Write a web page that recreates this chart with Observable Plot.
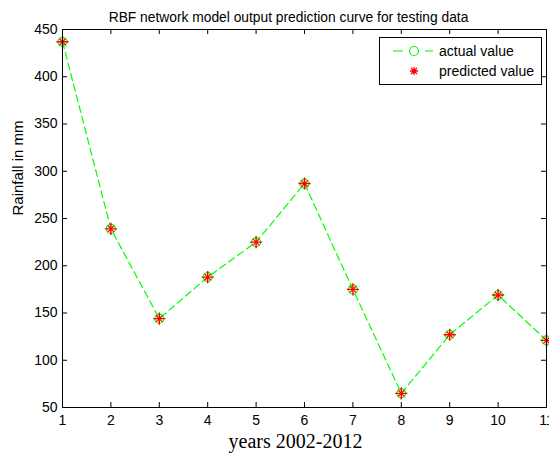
<!DOCTYPE html>
<html><head><meta charset="utf-8">
<script src="https://cdn.jsdelivr.net/npm/d3@7"></script>
<script src="https://cdn.jsdelivr.net/npm/@observablehq/plot@0.6"></script>
<style>
body{margin:0;background:#fff;}
#wrap{position:relative;width:549px;height:461px;overflow:hidden;}
#legend{position:absolute;left:379px;top:37px;width:161px;height:46px;border:1px solid #000;background:#fff;}
#legend svg{display:block;}
</style></head><body><div id="wrap"></div>
<script>
const years = [1, 2, 3, 4, 5, 6, 7, 8, 9, 10, 11];
const actual = [437, 239, 144, 188, 225, 287, 175, 65, 127, 169, 121];
const predicted = [437, 239, 144, 188, 225, 287, 175, 65, 127, 169, 121];
const xTicks = [1, 2, 3, 4, 5, 6, 7, 8, 9, 10, 11];
const yTicks = [50, 100, 150, 200, 250, 300, 350, 400, 450];
const titleText = "RBF network model output prediction curve for testing data";
const xLabel = "years 2002-2012";
const yLabel = "Rainfall in mm";
const seriesNames = ["actual value", "predicted value"];

const W = 549, H = 461;
const mL = 62, mR = 3, mT = 29, mB = 54;
const fw = W - mL - mR, fh = H - mT - mB;
const tick = 5;
const green = "#00ff00", red = "#ff0000";

const actualData = years.map((x, i) => ({x, y: actual[i]}));
const predData = years.map((x, i) => ({x, y: predicted[i]}));

const chart = Plot.plot({
  width: W, height: H,
  marginLeft: mL, marginRight: mR, marginTop: mT, marginBottom: mB,
  style: {fontFamily: "'Liberation Sans', Arial, sans-serif", fontSize: "14px", color: "#000", background: "#fff"},
  x: {domain: [1, 11]},
  y: {domain: [50, 450]},
  marks: [
    Plot.axisX({ticks: xTicks, tickSize: 0, tickPadding: 8, label: null, fontSize: 14}),
    Plot.axisY({ticks: yTicks, tickSize: 0, tickPadding: 5, label: null, fontSize: 14}),
    Plot.tickX(xTicks, {x: d => d, insetTop: fh - tick, stroke: "#000"}),
    Plot.tickX(xTicks, {x: d => d, insetBottom: fh - tick, stroke: "#000"}),
    Plot.tickY(yTicks, {y: d => d, insetRight: fw - tick, stroke: "#000"}),
    Plot.tickY(yTicks, {y: d => d, insetLeft: fw - tick, stroke: "#000"}),
    Plot.line(actualData, {x: "x", y: "y", stroke: green, strokeWidth: 1.2, strokeDasharray: "7,4"}),
    Plot.dot(actualData, {x: "x", y: "y", r: 4.5, stroke: green, strokeWidth: 1.2, fill: "none"}),
    Plot.dot(predData, {x: "x", y: "y", r: 4, symbol: "plus", stroke: red, strokeWidth: 1.4}),
    Plot.dot(predData, {x: "x", y: "y", r: 3, symbol: "times", stroke: red, strokeWidth: 1.2}),
    Plot.frame({stroke: "#000", strokeWidth: 1}),
    Plot.text([titleText], {text: d => d, frameAnchor: "top", dy: -17, dx: -16, fontSize: 13.8}),
    Plot.text([xLabel], {text: d => d, frameAnchor: "bottom", dy: 40, dx: -9, fontSize: 20, fontFamily: "'Liberation Serif', 'DejaVu Serif', serif"}),
    Plot.text([yLabel], {text: d => d, frameAnchor: "left", dx: -44, dy: -3, rotate: -90, fontSize: 15})
  ]
});
const wrap = document.getElementById("wrap");
wrap.appendChild(chart);

// legend
const leg = document.createElement("div");
leg.id = "legend";
wrap.appendChild(leg);
const ls = d3.select(leg).append("svg").attr("width", 161).attr("height", 46)
  .style("font-family", "'Liberation Sans', Arial, sans-serif").style("font-size", "14px");
const rows = [13, 33];
ls.append("line").attr("x1", 13).attr("x2", 53).attr("y1", rows[0]).attr("y2", rows[0])
  .attr("stroke", green).attr("stroke-width", 1.2).attr("stroke-dasharray", "10,6");
ls.append("circle").attr("cx", 34).attr("cy", rows[0]).attr("r", 4.5).attr("fill", "#fff").attr("stroke", green).attr("stroke-width", 1.2);
const sx = 34, sy = rows[1];
ls.append("path").attr("d", `M${sx-4},${sy}H${sx+4}M${sx},${sy-4}V${sy+4}M${sx-3},${sy-3}L${sx+3},${sy+3}M${sx-3},${sy+3}L${sx+3},${sy-3}`)
  .attr("stroke", red).attr("stroke-width", 1.3);
seriesNames.forEach((n, i) => {
  ls.append("text").attr("x", 59).attr("y", rows[i]).attr("dy", "0.35em").text(n);
});
</script>
</body></html>
